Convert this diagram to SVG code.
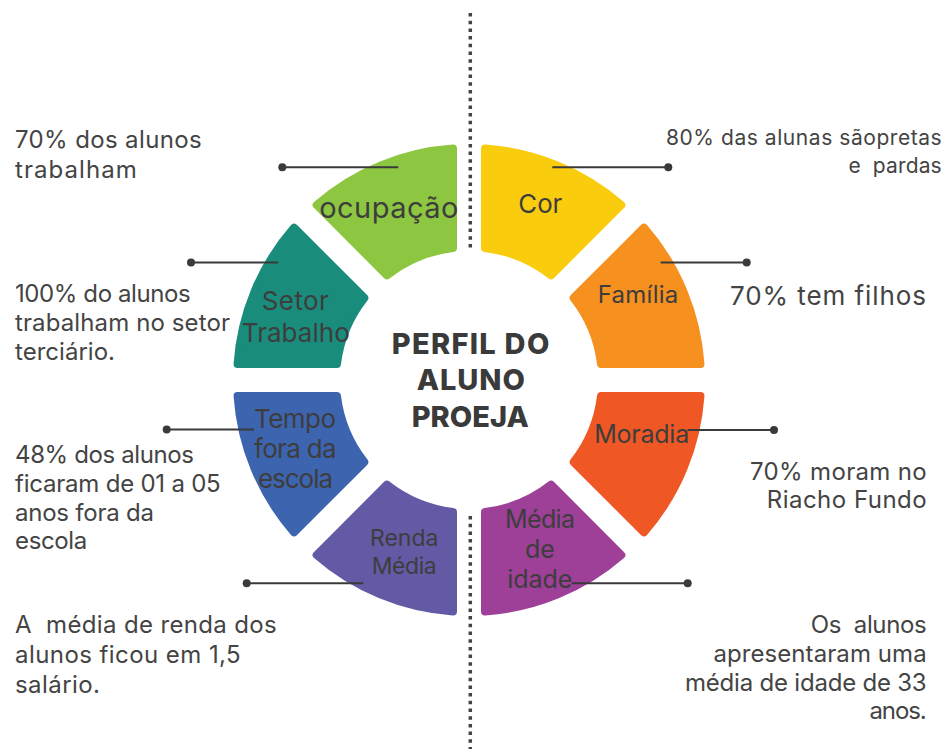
<svg xmlns="http://www.w3.org/2000/svg" width="948" height="749" viewBox="0 0 948 749">
<style>
text{white-space:pre}
.seg{stroke-width:8;stroke-linejoin:round}
.lbl{font-family:Inter,"Liberation Sans",sans-serif;font-size:26px;fill:#3d3d3d;text-anchor:middle}
.desc{font-family:Inter,"Liberation Sans",sans-serif;font-size:24px;fill:#444444}
.r{text-anchor:end}
.title{font-family:Inter,"Liberation Sans",sans-serif;font-size:29px;font-weight:800;fill:#3a3a3a;text-anchor:middle}
.con{stroke:#3a3a3a;stroke-width:2;fill:none}
.dot{fill:#3a3a3a}
</style>
<rect width="948" height="749" fill="#ffffff"/>
<g id="divider">
<line x1="470.3" y1="13" x2="470.3" y2="249" stroke="#444" stroke-width="3.5" stroke-dasharray="3.5 4.2"/>
<line x1="470.3" y1="516" x2="470.3" y2="749" stroke="#444" stroke-width="3.5" stroke-dasharray="3.5 4.2"/>
</g>
<g id="node-cor">
<path class="seg" fill="#FACC0E" stroke="#FACC0E" d="M485 148.55 A232 232 0 0 1 621.35 205.03 L551.05 275.32 A133 133 0 0 0 485 247.97 Z"/>
<text class="lbl" x="540.3" y="213" textLength="44" lengthAdjust="spacingAndGlyphs">Cor</text>
</g>
<g id="node-familia">
<path class="seg" fill="#F6901F" stroke="#F6901F" d="M643.97 227.65 A232 232 0 0 1 700.45 364 L601.03 364 A133 133 0 0 0 573.68 297.95 Z"/>
<text class="lbl" x="638" y="303" style="font-size:24px" textLength="80.6">Família</text>
</g>
<g id="node-moradia">
<path class="seg" fill="#EF5724" stroke="#EF5724" d="M700.45 396 A232 232 0 0 1 643.97 532.35 L573.68 462.05 A133 133 0 0 0 601.03 396 Z"/>
<text class="lbl" x="641.7" y="443" style="font-size:25px" textLength="95">Moradia</text>
</g>
<g id="node-media-idade">
<path class="seg" fill="#9E3F98" stroke="#9E3F98" d="M621.35 554.97 A232 232 0 0 1 485 611.45 L485 512.03 A133 133 0 0 0 551.05 484.68 Z"/>
<text class="lbl" x="540" y="528" style="font-size:25px" textLength="70">Média</text>
<text class="lbl" x="540" y="558" style="font-size:25px">de</text>
<text class="lbl" x="539.8" y="588" style="font-size:25px" textLength="65">idade</text>
</g>
<g id="node-renda">
<path class="seg" fill="#635AA5" stroke="#635AA5" d="M453 611.45 A232 232 0 0 1 316.65 554.97 L386.95 484.68 A133 133 0 0 0 453 512.03 Z"/>
<text class="lbl" x="404.2" y="546" style="font-size:23px" textLength="68.3">Renda</text>
<text class="lbl" x="404.2" y="574" style="font-size:23px" textLength="65">Média</text>
</g>
<g id="node-tempo">
<path class="seg" fill="#3D64AF" stroke="#3D64AF" d="M294.03 532.35 A232 232 0 0 1 237.55 396 L336.97 396 A133 133 0 0 0 364.32 462.05 Z"/>
<text class="lbl" x="295" y="428" textLength="82">Tempo</text>
<text class="lbl" x="295.3" y="458" textLength="82.7">fora da</text>
<text class="lbl" x="295.5" y="488" textLength="75">escola</text>
</g>
<g id="node-setor">
<path class="seg" fill="#1A8C7B" stroke="#1A8C7B" d="M237.55 364 A232 232 0 0 1 294.03 227.65 L364.32 297.95 A133 133 0 0 0 336.97 364 Z"/>
<text class="lbl" x="295.3" y="310" textLength="67">Setor</text>
<text class="lbl" x="295.8" y="342" textLength="108">Trabalho</text>
</g>
<g id="node-ocupacao">
<path class="seg" fill="#8DC640" stroke="#8DC640" d="M316.65 205.03 A232 232 0 0 1 453 148.55 L453 247.97 A133 133 0 0 0 386.95 275.32 Z"/>
<text class="lbl" x="388.8" y="218" style="font-size:29px" textLength="139">ocupação</text>
</g>
<g id="node-center">
<text class="title" x="470.5" y="354" textLength="157.6">PERFIL DO</text>
<text class="title" x="470.8" y="390" textLength="108.3">ALUNO</text>
<text class="title" x="470.3" y="426.5" textLength="117.3">PROEJA</text>
</g>
<g id="connectors">
<line class="con" x1="282.3" y1="167.3" x2="398.3" y2="167.3"/><circle class="dot" cx="282.3" cy="167.3" r="4"/>
<line class="con" x1="552.3" y1="167.3" x2="668.3" y2="167.3"/><circle class="dot" cx="668.3" cy="167.3" r="4"/>
<line class="con" x1="191" y1="262.5" x2="278.3" y2="262.5"/><circle class="dot" cx="191" cy="262.5" r="4"/>
<line class="con" x1="660.7" y1="262.5" x2="746.7" y2="262.5"/><circle class="dot" cx="746.7" cy="262.5" r="4"/>
<line class="con" x1="166.7" y1="429.5" x2="254" y2="429.5"/><circle class="dot" cx="166.7" cy="429.5" r="4"/>
<line class="con" x1="687.5" y1="430" x2="774" y2="430"/><circle class="dot" cx="774" cy="430" r="4"/>
<line class="con" x1="246.7" y1="583.3" x2="363.3" y2="583.3"/><circle class="dot" cx="246.7" cy="583.3" r="4"/>
<line class="con" x1="571.7" y1="583.3" x2="687.7" y2="583.3"/><circle class="dot" cx="687.7" cy="583.3" r="4"/>
</g>
<g id="descriptions">
<text class="desc" x="15" y="148" textLength="186.7">70% dos alunos</text>
<text class="desc" x="15" y="178" textLength="121.7">trabalham</text>
<text class="desc" x="15" y="302" textLength="175.7">100% do alunos</text>
<text class="desc" x="15" y="331" textLength="215">trabalham no setor</text>
<text class="desc" x="15" y="360" textLength="100">terciário.</text>
<text class="desc" x="15" y="463" textLength="179">48% dos alunos</text>
<text class="desc" x="15" y="492" textLength="205.7">ficaram de 01 a 05</text>
<text class="desc" x="15" y="521" textLength="139">anos fora da</text>
<text class="desc" x="15" y="549" textLength="72.3">escola</text>
<text class="desc" x="15" y="633" textLength="261.7">A  média de renda dos</text>
<text class="desc" x="15" y="663" textLength="225.7">alunos ficou em 1,5</text>
<text class="desc" x="15" y="693" textLength="85">salário.</text>
<text class="desc r" x="941.7" y="145" style="font-size:21px" textLength="275.7">80% das alunas sãopretas</text>
<text class="desc r" x="941.7" y="173" style="font-size:21px" textLength="93.3">e  pardas</text>
<text class="desc" x="730" y="305" style="font-size:26px" textLength="196">70% tem filhos</text>
<text class="desc r" x="926.7" y="480" textLength="176.7">70% moram no</text>
<text class="desc r" x="926.7" y="508" textLength="160">Riacho Fundo</text>
<text class="desc r" x="926.7" y="633" textLength="116">Os  alunos</text>
<text class="desc r" x="926.7" y="662" textLength="213.3">apresentaram uma</text>
<text class="desc r" x="926.7" y="691" textLength="241.7">média de idade de 33</text>
<text class="desc r" x="926.7" y="719" textLength="57.3">anos.</text>
</g>
</svg>
